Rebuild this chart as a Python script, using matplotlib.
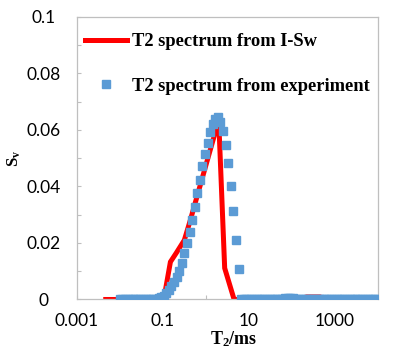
import numpy as np
import matplotlib
matplotlib.use('Agg')
import matplotlib.pyplot as plt
from matplotlib.ticker import FixedLocator, FixedFormatter

# T2 bins of the measured spectrum (ms)
t2_exp = [0.01, 0.01148, 0.01318, 0.01514, 0.01738, 0.01995, 0.02291, 0.0263, 0.0302, 0.03467,
          0.03981, 0.04571, 0.05248, 0.06026, 0.06918, 0.07943, 0.0912, 0.1047, 0.1202, 0.138,
          0.1585, 0.182, 0.2089, 0.2399, 0.2754, 0.3162, 0.3631, 0.4169, 0.4786, 0.5495,
          0.631, 0.7244, 0.8318, 0.955, 1.096, 1.259, 1.445, 1.66, 1.905, 2.188,
          2.512, 2.884, 3.311, 3.802, 4.365, 5.012, 5.754, 6.607, 7.586, 8.71,
          10.0, 11.48, 13.18, 15.14, 17.38, 19.95, 22.91, 26.3, 30.2, 34.67,
          39.81, 45.71, 52.48, 60.26, 69.18, 79.43, 91.2, 104.7, 120.2, 138.0,
          158.5, 182.0, 208.9, 239.9, 275.4, 316.2, 363.1, 416.9, 478.6, 549.5,
          631.0, 724.4, 831.8, 955.0, 1096, 1259, 1445, 1660, 1905, 2188,
          2512, 2884, 3311, 3802, 4365, 5012, 5754, 6607, 7586, 8710, 10000]
sv_exp = [0, 0, 0, 0, 0, 0, 0, 0, 0, 0,
          0, 0, 0, 0.0001, 0.0002, 0.0004, 0.0008, 0.0013, 0.0022, 0.0034,
          0.0048, 0.0063, 0.0081, 0.0102, 0.0130, 0.0164, 0.0200, 0.0239, 0.0281, 0.0328,
          0.0378, 0.0423, 0.0474, 0.0515, 0.0555, 0.0593, 0.0621, 0.0640, 0.0645, 0.0629,
          0.0598, 0.0548, 0.0484, 0.0402, 0.0314, 0.0211, 0.0107, 0, 0, 0,
          0, 0, 0, 0, 0, 0, 0, 0, 0, 0,
          0, 0, 0.0001, 0.0003, 0.0005, 0.0006, 0.0006, 0.0005, 0.0003, 0.0001,
          0, 0, 0, 0, 0, 0, 0, 0, 0, 0,
          0, 0, 0, 0, 0, 0, 0, 0, 0, 0,
          0, 0, 0, 0, 0, 0, 0, 0, 0, 0, 0]

# spectrum computed from the I-Sw curve
t2_isw = [0.0047, 0.105, 0.15, 0.206, 0.316, 0.436, 1.99, 2.74, 4.54, 130, 220, 450, 700, 10000]
sv_isw = [0, 0, 0.0133, 0.0165, 0.021, 0.0281, 0.0635, 0.0111, 0, 0, 0.0009, 0.0009, 0, 0]

xtick_vals = [0.001, 0.01, 0.1, 1, 10, 100, 1000, 10000]
xtick_text = ['0.001', '', '0.1', '', '10', '', '1000', '']
ytick_vals = [0, 0.01, 0.02, 0.03, 0.04, 0.05, 0.06, 0.07, 0.08, 0.09, 0.1]
ytick_text = ['0', '', '0.02', '', '0.04', '', '0.06', '', '0.08', '', '0.1']

plt.rcParams['mathtext.fontset'] = 'custom'
plt.rcParams['mathtext.rm'] = 'Liberation Serif'
plt.rcParams['mathtext.bf'] = 'Liberation Serif:bold'

fig = plt.figure(figsize=(4.13, 3.54), dpi=100)
ax = fig.add_axes([0.186, 0.154, 0.729, 0.798])

ax.plot(t2_isw, sv_isw, color='#FF0000', lw=3.6, solid_joinstyle='miter',
        label='T2 spectrum from I-Sw', zorder=2)
ax.plot(t2_exp, sv_exp, ls='none', marker='s', ms=6.3, color='#5B9BD5',
        mec='#5B9BD5', label='T2 spectrum from experiment', zorder=3)

ax.set_xscale('log')
ax.set_xlim(0.001, 10000)
ax.set_ylim(0, 0.1)

ax.xaxis.set_major_locator(FixedLocator(xtick_vals))
ax.xaxis.set_major_formatter(FixedFormatter(xtick_text))
ax.xaxis.set_minor_locator(FixedLocator([]))
ax.yaxis.set_major_locator(FixedLocator(ytick_vals))
ax.yaxis.set_major_formatter(FixedFormatter(ytick_text))

ax.tick_params(axis='both', direction='in', length=3, width=0.8, color='#BFBFBF',
               labelsize=12.5)
ax.tick_params(axis='x', pad=10)
ax.tick_params(axis='y', pad=24)
for lab in ax.get_xticklabels() + ax.get_yticklabels():
    lab.set_fontfamily('Lato')
for lab in ax.get_yticklabels():
    lab.set_horizontalalignment('center')

for sp in ax.spines.values():
    sp.set_color('#BFBFBF')
    sp.set_linewidth(0.9)

ax.set_xlabel(r'$\mathbf{T_2/ms}$', fontsize=13)
ax.xaxis.set_label_coords(0.52, -0.105)
ax.set_ylabel(r'$\mathbf{S_v}$', fontsize=12)
ax.yaxis.set_label_coords(-0.18, 0.5)

leg = ax.legend(loc='upper left', bbox_to_anchor=(0.027, 0.943), frameon=False,
                handlelength=2.3, handletextpad=0.25, labelspacing=1.5,
                borderpad=0, borderaxespad=0, numpoints=1,
                prop={'family': 'Liberation Serif', 'weight': 'bold', 'size': 13.3})

fig.savefig('out.png', dpi=100)
